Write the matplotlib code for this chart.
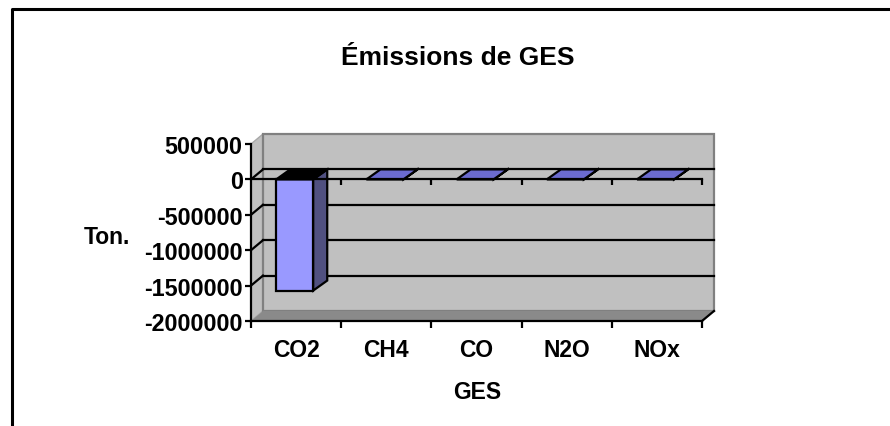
import matplotlib
matplotlib.use("Agg")
import matplotlib.pyplot as plt
from matplotlib.patches import Polygon, Rectangle
from matplotlib.lines import Line2D

# données du graphique
categories = ['CO2', 'CH4', 'CO', 'N2O', 'NOx']
values = [-1570000, 2000, 1500, 600, 900]
y_ticks = [500000, 0, -500000, -1000000, -1500000, -2000000]
y_min, y_max = -2000000, 500000

plt.rcParams['font.family'] = ['Liberation Sans', 'DejaVu Sans']

W, H = 890, 427
fig = plt.figure(figsize=(W / 100, H / 100), dpi=100)
fig.patch.set_facecolor('white')

# plan avant du graphique 3D (axe des valeurs a gauche, plancher en bas)
left, right, top, bottom = 251, 702, 145, 322
ax = fig.add_axes([left / W, (H - bottom) / H, (right - left) / W, (bottom - top) / H])
ax.set_xlim(0, len(categories))
ax.set_ylim(y_min, y_max)
ax.patch.set_visible(False)

# profondeur en unites de donnees
px_x = (right - left) / len(categories)
px_y = (bottom - top) / (y_max - y_min)
dx_wall = 12 / px_x
dx_bar = 14 / px_x
dy = 10 / px_y
n = len(categories)
lw = 1.6

wall_col = '#C0C0C0'
floor_col = '#8A8A8A'

# mur lateral
ax.add_patch(Polygon([(0, y_min), (0, y_max), (dx_wall, y_max + dy), (dx_wall, y_min + dy)],
                     closed=True, facecolor=wall_col, edgecolor='#A8A8A8', lw=1, clip_on=False, zorder=1))
# mur du fond
ax.add_patch(Rectangle((dx_wall, y_min + dy), n, y_max - y_min, facecolor=wall_col,
                       edgecolor='#808080', lw=lw, clip_on=False, zorder=1))
# plancher
ax.add_patch(Polygon([(0, y_min), (n, y_min), (n + dx_wall, y_min + dy), (dx_wall, y_min + dy)],
                     closed=True, facecolor=floor_col, edgecolor='none', clip_on=False, zorder=1.2))
ax.plot([n, n + dx_wall], [y_min, y_min + dy], color='black', lw=lw, clip_on=False, zorder=3)

# quadrillage du mur du fond et du mur lateral
for v in y_ticks[1:-1]:
    ax.plot([dx_wall, n + dx_wall], [v + dy, v + dy], color='black', lw=lw, clip_on=False, zorder=1.5)
    ax.plot([0, dx_wall], [v, v + dy], color='black', lw=lw, clip_on=False, zorder=1.5)

# barres 3D
for i, v in enumerate(values):
    x0 = i + 0.28
    w = 0.41
    ax.add_patch(Polygon([(x0, v), (x0 + w, v), (x0 + w, 0), (x0, 0)], closed=True,
                         facecolor='#9999FF', edgecolor='black', lw=lw, clip_on=False, zorder=2))
    ax.add_patch(Polygon([(x0 + w, v), (x0 + w + dx_bar, v + dy), (x0 + w + dx_bar, dy), (x0 + w, 0)],
                         closed=True, facecolor='#505080', edgecolor='black', lw=lw, clip_on=False, zorder=2))
    top_col = 'black' if v < 0 else '#6B6BCF'
    ax.add_patch(Polygon([(x0, 0), (x0 + w, 0), (x0 + w + dx_bar, dy), (x0 + dx_bar, dy)], closed=True,
                         facecolor=top_col, edgecolor='black', lw=lw, clip_on=False, zorder=2.1))

# ligne du zero au premier plan avec ses graduations
ax.plot([0, n], [0, 0], color='black', lw=lw, clip_on=False, zorder=3)
ax.plot(range(1, n + 1), [0] * n, ls='', marker=3, markersize=4, mew=lw, color='black',
        clip_on=False, zorder=3)

# axes
for s in ['top', 'right']:
    ax.spines[s].set_visible(False)
for s in ['left', 'bottom']:
    ax.spines[s].set_linewidth(lw)
    ax.spines[s].set_zorder(3)

ax.set_yticks(y_ticks)
ax.set_yticklabels([str(v) for v in y_ticks])
ax.tick_params(axis='y', direction='out', length=4, width=lw, pad=2, labelsize=16.8)

ax.set_xticks([i + 0.5 for i in range(n)])
ax.set_xticklabels(categories)
ax.set_xticks(range(n + 1), minor=True)
ax.tick_params(axis='x', which='major', length=0, pad=12.5, labelsize=16.5)
ax.tick_params(axis='x', which='minor', direction='out', length=5, width=lw)
for lbl in ax.get_yticklabels() + ax.get_xticklabels():
    lbl.set_fontweight('bold')

# textes
fig.text(458 / W, 1 - 58 / H, 'Émissions de GES', ha='center', va='center',
         fontsize=19, fontweight='bold')
fig.text(107 / W, 1 - 238 / H, 'Ton.', ha='center', va='center', fontsize=16.5, fontweight='bold')
fig.text(477 / W, 1 - 393 / H, 'GES', ha='center', va='center', fontsize=16.5, fontweight='bold')

# cadre exterieur
fig.add_artist(Line2D([11.5 / W, 11.5 / W, 1], [0, 1 - 9.7 / H, 1 - 9.7 / H],
                      transform=fig.transFigure, color='black', lw=2.2))

fig.savefig('out.png', dpi=100)
